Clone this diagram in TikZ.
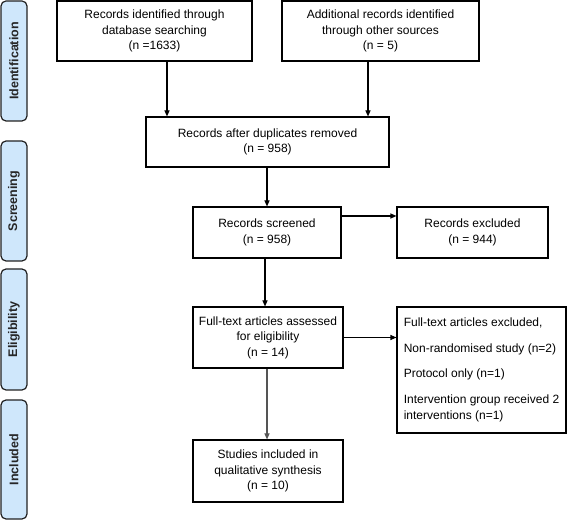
\documentclass[tikz,border=0pt]{standalone}
\usepackage{fontspec}
\setmainfont{Liberation Sans}
\usetikzlibrary{arrows.meta}
\definecolor{bandfill}{HTML}{CFE7FB}
\definecolor{bandline}{HTML}{222222}
\definecolor{grayarrow}{HTML}{555555}
\begin{document}
\begin{tikzpicture}[x=1pt,y=-1pt,
  box/.style={draw=black, line width=1.1pt, inner sep=0pt, align=center,
    font=\fontsize{12}{15.5}\selectfont},
  band/.style={draw=bandline, fill=bandfill, line width=1.2pt, rounded corners=5pt,
    rotate=90, minimum height=26pt, inner sep=0pt,
    font=\fontsize{12.5}{14}\selectfont\bfseries, text=black!85},
  arr/.style={line width=1.1pt, -{Triangle[length=6pt,width=5pt]}}
]
\useasboundingbox (0,0) rectangle (568,521);

% phase bands
\node[band, minimum width=120pt] (l1) at (14,61) {Identification};
\node[band, minimum width=120pt] (l2) at (14,201) {Screening};
\node[band, minimum width=121pt] (l3) at (14,329.5) {Eligibility};
\node[band, minimum width=119pt] (l4) at (14,459.5) {Included};

% boxes
\node[box, minimum width=195pt, minimum height=60pt] (b1) at (154.5,31)
  {Records identified through\\database searching\\(n =1633)};
\node[box, minimum width=197pt, minimum height=60pt] (b2) at (380.5,31)
  {Additional records identified\\through other sources\\(n = 5)};
\node[box, minimum width=243pt, minimum height=50pt] (b3) at (267.5,142)
  {Records after duplicates removed\\(n = 958)};
\node[box, minimum width=148pt, minimum height=51pt] (b4) at (267,232.5)
  {Records screened\\(n = 958)};
\node[box, minimum width=151pt, minimum height=51pt] (b5) at (472.5,232.5)
  {Records excluded\\(n = 944)};
\node[box, minimum width=150pt, minimum height=61pt] (b6) at (268,337.5)
  {Full-text articles assessed\\for eligibility\\(n = 14)};
\node[box, align=left, minimum width=169pt, minimum height=126pt,
  font=\fontsize{12}{16}\selectfont] (b7) at (481.5,370)
  {Full-text articles excluded,\\[9.5pt]
   Non-randomised study (n=2)\\[9.5pt]
   Protocol only (n=1)\\[9.5pt]
   Intervention group received 2\\
   interventions (n=1)};
\node[box, minimum width=150pt, minimum height=62pt] (b8) at (268,471)
  {Studies included in\\qualitative synthesis\\(n = 10)};

% connectors
\draw[arr] ([xshift=12.5pt]b1.south) -- ([xshift=12.5pt]b1.south |- b3.north);
\draw[arr] ([xshift=-12.5pt]b2.south) -- ([xshift=-12.5pt]b2.south |- b3.north);
\draw[arr] (b3.south -| b4.north) -- (b4.north);
\draw[arr] ([yshift=16.5pt]b4.east) -- ([yshift=16.5pt]b4.east -| b5.west);
\draw[arr] ([xshift=-2pt]b4.south) -- ([xshift=-2pt]b4.south |- b6.north);
\draw[arr] (b6.east) -- (b6.east -| b7.west);
\draw[arr, draw=grayarrow, fill=black] ([xshift=-1pt]b6.south) -- ([xshift=-1pt]b6.south |- b8.north);
\end{tikzpicture}
\end{document}
